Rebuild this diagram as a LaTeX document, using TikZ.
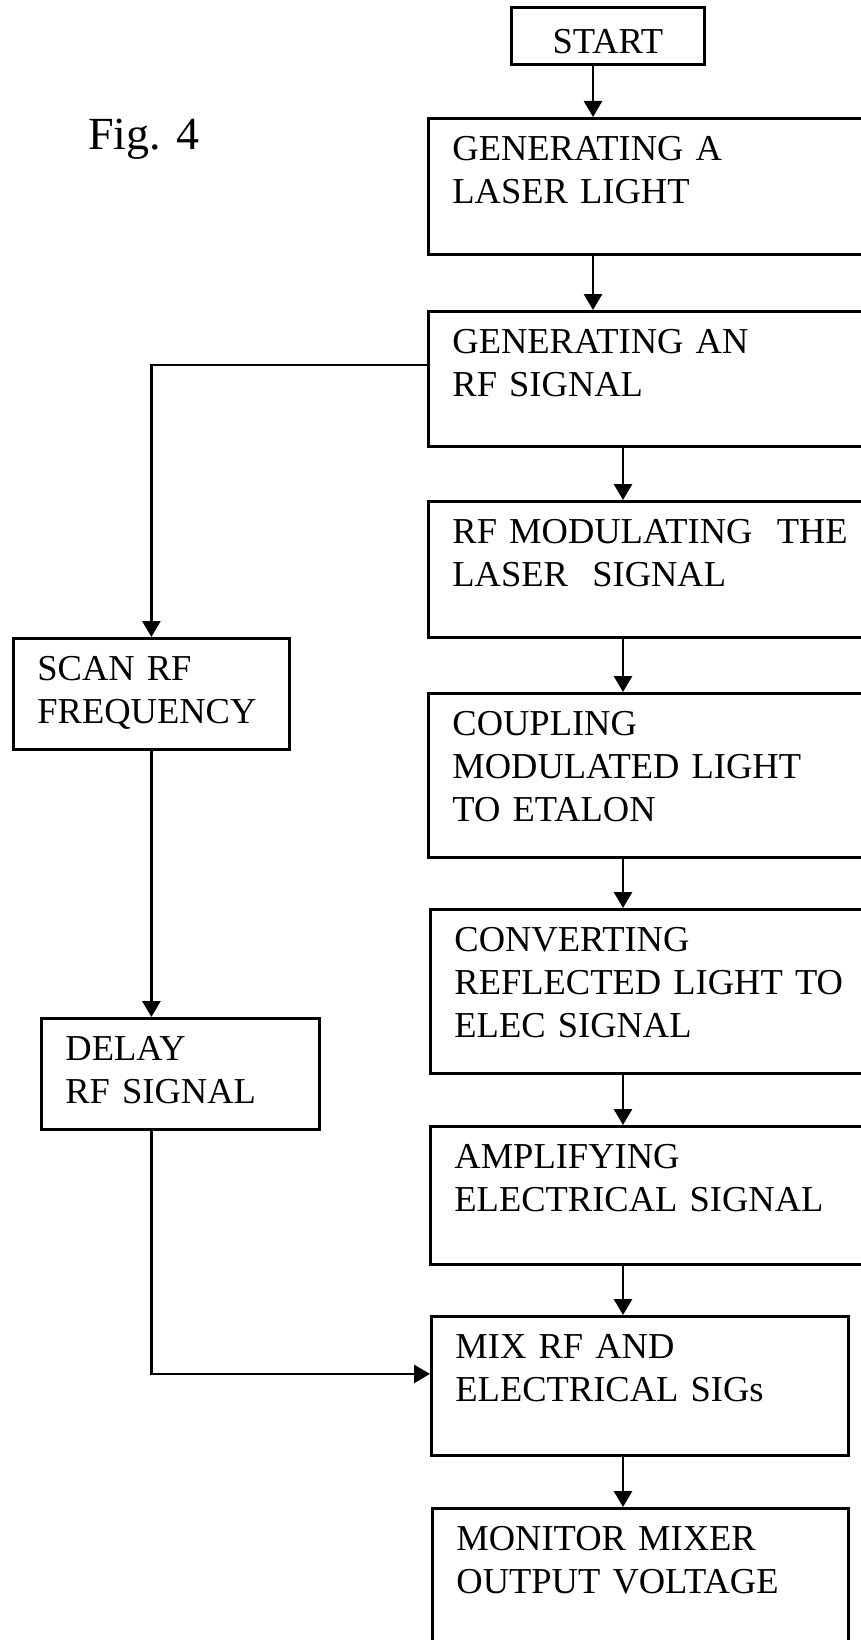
\documentclass[tikz,border=0pt]{standalone}
\usepackage{fontspec}
\setmainfont{Liberation Serif}
\usetikzlibrary{arrows.meta}

\tikzset{
    stepbox/.style={draw=black, line width=2.8pt, anchor=north west, align=left,
        inner xsep=24pt, inner ysep=0pt, text height=42pt,
        font=\fontsize{36.5}{43}\selectfont},
}

\begin{document}
\begin{tikzpicture}[x=1pt,y=-1pt,line width=2.8pt,>={Triangle[length=16pt,width=18pt]}]
    \useasboundingbox (0,0) rectangle (861,1640);
    \node[anchor=base,font=\fontsize{46}{46}\selectfont] (fig) at (144,150) {Fig. 4};
    \node[stepbox,align=center,text width=145pt,text height=46pt,text depth=11pt] (start) at (510,6) {START};
    \node[stepbox,text width=405pt,text depth=94pt] (b1) at (427,117) {GENERATING A\\LASER LIGHT};
    \node[stepbox,text width=405pt,text depth=93pt] (b2) at (427,310) {GENERATING AN\\RF SIGNAL};
    \node[stepbox,text width=405pt,text depth=94pt] (b3) at (427,500) {RF MODULATING\ \ THE\\LASER\ \ SIGNAL};
    \node[stepbox,text width=405pt,text depth=122pt] (b4) at (427,692) {COUPLING\\MODULATED LIGHT\\TO ETALON};
    \node[stepbox,text width=403pt,text depth=122pt] (b5) at (429,908) {CONVERTING\\REFLECTED LIGHT TO\\ELEC SIGNAL};
    \node[stepbox,text width=403pt,text depth=96pt] (b6) at (429,1125) {AMPLIFYING\\ELECTRICAL SIGNAL};
    \node[stepbox,text width=369pt,text depth=97pt] (b7) at (430,1315) {MIX RF AND\\ELECTRICAL SIGs};
    \node[stepbox,text width=368pt,text depth=118pt] (b8) at (431,1507) {MONITOR MIXER\\OUTPUT VOLTAGE};
    \node[stepbox,text width=228pt,text depth=69pt] (scan) at (12,637) {SCAN RF\\FREQUENCY};
    \node[stepbox,text width=230pt,text depth=69pt] (delay) at (40,1017) {DELAY\\RF SIGNAL};
    \coordinate (c1) at (593,0);
    \coordinate (c2) at (623,0);
    \draw[->] (start.south -| c1) -- (b1.north -| c1);
    \draw[->] (b1.south -| c1) -- (b2.north -| c1);
    \draw[->] (b2.south -| c2) -- (b3.north -| c2);
    \draw[->] (b3.south -| c2) -- (b4.north -| c2);
    \draw[->] (b4.south -| c2) -- (b5.north -| c2);
    \draw[->] (b5.south -| c2) -- (b6.north -| c2);
    \draw[->] (b6.south -| c2) -- (b7.north -| c2);
    \draw[->] (b7.south -| c2) -- (b8.north -| c2);
    \draw[->] ([yshift=14pt]b2.west) -| (scan.north);
    \draw[->] (scan.south) -- (delay.north -| scan.south);
    \draw[->] (delay.south -| scan.south) |- ([yshift=12pt]b7.west);
\end{tikzpicture}
\end{document}
